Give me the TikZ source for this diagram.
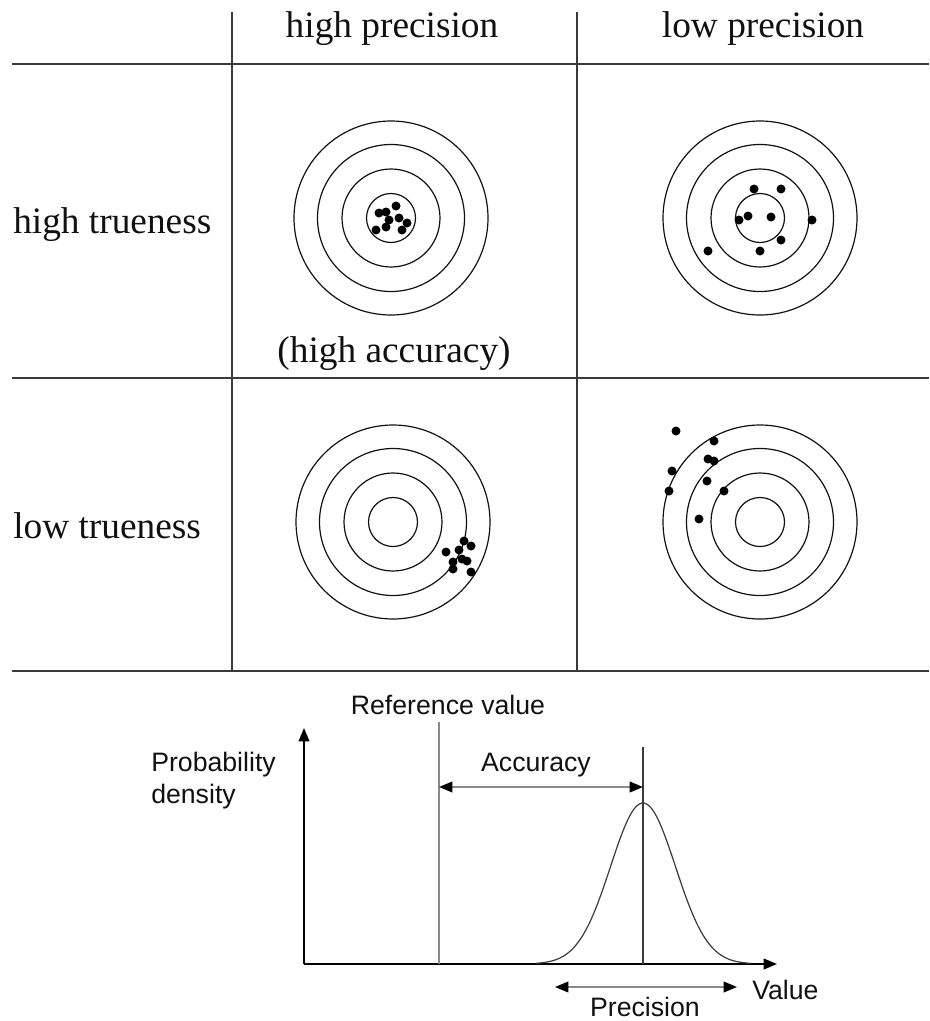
\documentclass[tikz,border=0pt]{standalone}
\usepackage{fontspec}
\setmainfont{Liberation Serif}
\setsansfont{Liberation Sans}
\usetikzlibrary{positioning,arrows.meta,calc}
\definecolor{accInk}{HTML}{111111}
\definecolor{accRule}{HTML}{3A3A3A}
\definecolor{accGray}{HTML}{8A8A8A}
\tikzset{
  acc-head/.style={font=\fontsize{28}{30}\selectfont, anchor=base,
    text=accInk, inner sep=0pt},
  acc-row/.style={acc-head, anchor=base west},
  acc-rule/.style={draw=accRule, line width=1.5pt},
  acc-sep/.style={draw=accRule, line width=0.9pt},
  acc-ring/.style={draw=accInk, line width=0.9pt},
  acc-dot/.style={fill=black},
  acc-plot/.style={font=\sffamily\fontsize{20}{24}\selectfont,
    text=accInk, inner sep=0pt},
  acc-axis/.style={-{Triangle[length=10pt,width=8pt]}, line width=1.4pt,
    draw=black},
  acc-span/.style={{Triangle[length=10pt,width=8pt,color=black]}-{Triangle[length=10pt,width=8pt,color=black]},
    line width=1.3pt, draw=accGray},
  acc-curve/.style={draw=accRule, line width=0.9pt}
}

\begin{document}
\begin{tikzpicture}[x=0.75pt, y=-0.75pt]
\useasboundingbox (0,0) rectangle (929,1021);

% table
\draw[acc-rule] (12,64) -- (929,64);
\draw[acc-rule] (12,378) -- (929,378);
\draw[acc-rule] (12,671) -- (929,671);
\draw[acc-sep] (232,12) -- (232,671);
\draw[acc-sep] (577,12) -- (577,671);

\node[acc-head] (hprec) at (392,37) {high precision};
\node[acc-head] (lprec) at (763,37) {low precision};
\node[acc-row] (htrue) at (13,233) {high trueness};
\node[acc-row] (ltrue) at (13,538) {low trueness};
\node[acc-head] (hacc) at (394,362) {(high accuracy)};

% targets
\coordinate (tl) at (391,218);
\coordinate (tr) at (760,218);
\coordinate (bl) at (393,522);
\coordinate (br) at (760,522);
\foreach \c in {tl,tr,bl,br}
  \foreach \r in {24.5,49,73.5,97}
    \draw[acc-ring] (\c) circle[radius=\r];

\foreach \dx/\dy in {-12/-5,-5/-6,5/-12,-2/2,8/0,16/5,-15/12,-5/9,11/12}
  \fill[acc-dot] ($(tl)+(\dx,\dy)$) circle[radius=4.5];
\foreach \dx/\dy in {-6/-29,21/-29,-21/2,-12/-2,11/-1,52/2,21/22,0/33,-52/33}
  \fill[acc-dot] ($(tr)+(\dx,\dy)$) circle[radius=4.5];
\foreach \dx/\dy in {71/19,78/24,66/28,53/30,69/37,74/39,60/40,60/47,78/50}
  \fill[acc-dot] ($(bl)+(\dx,\dy)$) circle[radius=4.5];
\foreach \dx/\dy in {-84/-91,-46/-81,-52/-63,-46/-61,-88/-51,-53/-41,-91/-31,-36/-31,-61/-3}
  \fill[acc-dot] ($(br)+(\dx,\dy)$) circle[radius=4.5];

% density plot
\coordinate (origin) at (304,964);
\coordinate (ytip) at (304,728);
\coordinate (xtip) at (777,964);
\coordinate (reftop) at (439,722);
\coordinate (refbot) at (439,964);
\coordinate (peaktop) at (643,747);
\coordinate (peakbot) at (643,964);
\coordinate (accL) at (439,787);
\coordinate (accR) at (643,787);
\coordinate (preL) at (555,987);
\coordinate (preR) at (737,987);

\draw[acc-axis] (origin) -- (ytip);
\draw[acc-axis] (origin) -- (xtip);
\draw[draw=accGray, line width=1.2pt] (reftop) -- (refbot);
\draw[draw=accRule, line width=0.8pt] (peaktop) -- (peakbot);
\draw[acc-curve] plot[domain=536:750, samples=90, smooth]
  (\x, {964-161*exp(-((\x-643)^2)/2100)});
\draw[acc-span] (accL) -- (accR);
\draw[acc-span] (preL) -- (preR);

\node[acc-plot] (refval) at (448,705) {Reference value};
\node[acc-plot] (acclab) at (536,765) {Accuracy};
\node[acc-plot, anchor=west, align=left] (probdens) at (151,781)
  {Probability\\density};
\node[acc-plot, anchor=west] (vallab) at (752,990) {Value};
\node[acc-plot] (preclab) at (645,1007) {Precision};
\end{tikzpicture}
\end{document}
